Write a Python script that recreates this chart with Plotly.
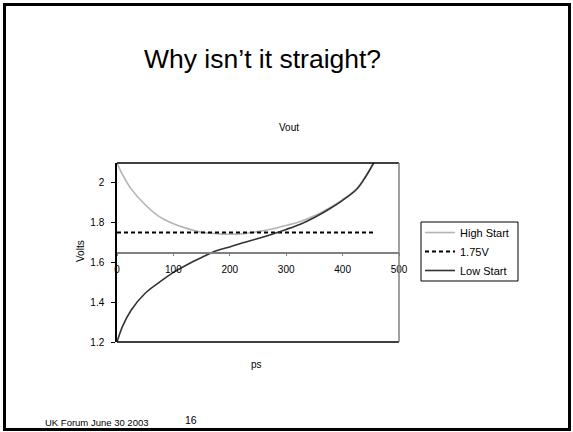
import plotly.graph_objects as go

# ---- data ----
ps = [0, 10, 25, 50, 75, 100, 125, 150, 175, 200, 225, 250, 275, 300, 325, 350, 375, 400, 425, 440, 455]
high_start = [2.10, 2.04, 1.97, 1.89, 1.83, 1.795, 1.77, 1.752, 1.745, 1.742, 1.745, 1.755, 1.768, 1.786,
              1.806, 1.835, 1.872, 1.916, 1.972, 2.03, 2.10]
low_start = [1.20, 1.28, 1.36, 1.445, 1.50, 1.55, 1.59, 1.625, 1.657, 1.678, 1.70, 1.72, 1.742, 1.766,
             1.792, 1.826, 1.866, 1.912, 1.968, 2.027, 2.10]
ref_x = [0, 455]
ref_v = [1.75, 1.75]
x_ticks = [0, 100, 200, 300, 400, 500]
y_ticks = [1.2, 1.4, 1.6, 1.8, 2.0]
y_tick_text = ["1.2", "1.4", "1.6", "1.8", "2"]

W, H = 573, 432
L, R, T, B = 117, 399, 163, 342  # plot area in pixels
FONT = "Arial, Liberation Sans, sans-serif"


def px(x):
    return (x - L) / (R - L)


def py(y):
    return (B - y) / (B - T)


fig = go.Figure()
fig.add_trace(go.Scatter(x=ps, y=high_start, mode="lines", name="High Start",
                         line=dict(color="#b4b4b4", width=1.6, shape="spline")))
fig.add_trace(go.Scatter(x=ref_x, y=ref_v, mode="lines", name="1.75V",
                         line=dict(color="#000000", width=2, dash="4px,3px")))
fig.add_trace(go.Scatter(x=ps, y=low_start, mode="lines", name="Low Start",
                         line=dict(color="#333333", width=1.6, shape="spline")))

fig.update_layout(
    width=W, height=H,
    margin=dict(l=L, r=W - R, t=T, b=H - B, pad=0),
    paper_bgcolor="white", plot_bgcolor="white",
    font=dict(family=FONT, size=10, color="#000000"),
    showlegend=True,
    legend=dict(x=px(420), y=py(218), xanchor="left", yanchor="top",
                borderwidth=0, bgcolor="rgba(0,0,0,0)",
                font=dict(size=11, family=FONT), tracegroupgap=0,
                itemwidth=30),
    xaxis=dict(range=[0, 500], tickvals=x_ticks, ticks="outside", ticklen=3,
               tickcolor="#808080", showline=True, linecolor="#808080", linewidth=1.5,
               showgrid=False, zeroline=False, anchor="free", position=0.5,
               ticklabelstandoff=5,
               tickfont=dict(size=10, family=FONT)),
    yaxis=dict(range=[1.2, 2.1], tickvals=y_ticks, ticktext=y_tick_text, ticks="outside",
               ticklen=4, tickcolor="#000000", showline=True, linecolor="#000000",
               linewidth=1.5, showgrid=False, zeroline=False, ticklabelstandoff=5,
               tickfont=dict(size=10, family=FONT)),
)

shapes = [
    # plot area borders
    dict(type="line", xref="paper", yref="paper", x0=0, x1=1, y0=1, y1=1,
         line=dict(color="#000000", width=1.5)),
    dict(type="line", xref="paper", yref="paper", x0=0, x1=1, y0=0, y1=0,
         line=dict(color="#000000", width=1.5)),
    dict(type="line", xref="paper", yref="paper", x0=1, x1=1, y0=0, y1=1,
         line=dict(color="#808080", width=1.5)),
    # legend box
    dict(type="rect", xref="paper", yref="paper", x0=px(421), x1=px(518),
         y0=py(281), y1=py(222), line=dict(color="#000000", width=1)),
    # slide frame
    dict(type="rect", xref="paper", yref="paper", x0=px(4.5), x1=px(569.5),
         y0=py(429.5), y1=py(4.5), line=dict(color="#000000", width=3)),
]
fig.update_layout(shapes=shapes)

ann = [
    dict(text="Why isn\u2019t it straight?", x=px(262), y=py(59), size=26.5, xa="center"),
    dict(text="Vout", x=px(289), y=py(127), size=10, xa="center"),
    dict(text="ps", x=px(256), y=py(364), size=10, xa="center"),
    dict(text="UK Forum June 30 2003", x=px(43), y=py(422), size=9.5, xa="left"),
    dict(text="16", x=px(191), y=py(420), size=10.5, xa="center"),
]
for a in ann:
    fig.add_annotation(text=a["text"], x=a["x"], y=a["y"], xref="paper", yref="paper",
                       xanchor=a["xa"], yanchor="middle", showarrow=False,
                       font=dict(size=a["size"], family=FONT, color="#000000"))
fig.add_annotation(text="Volts", x=px(80), y=py(251), xref="paper", yref="paper",
                   xanchor="center", yanchor="middle", showarrow=False, textangle=-90,
                   font=dict(size=10, family=FONT, color="#000000"))

fig.write_html("out.html")
